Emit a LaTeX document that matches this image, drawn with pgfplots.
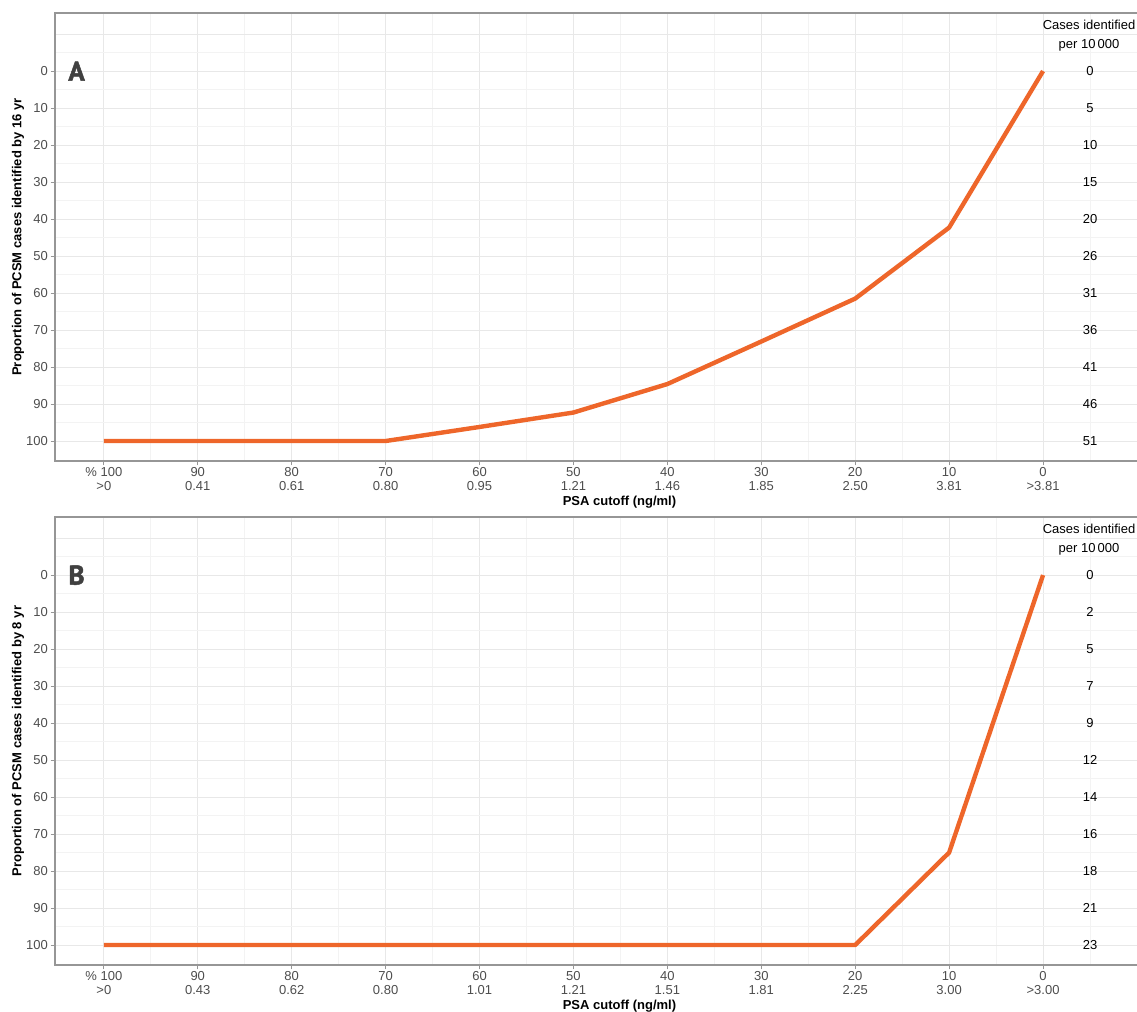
\documentclass[border=0pt]{standalone}
\usepackage{pgfplots}
\pgfplotsset{compat=1.18}
\usepackage{pgfplotstable}
\usepackage{fontspec}
\setmainfont{Liberation Sans}
\newfontfamily\panelfont{PT Sans}[BoldFeatures={FakeBold=1.8}]

\definecolor{lineorange}{RGB}{238,102,42}
\definecolor{gridmaj}{RGB}{232,232,232}
\definecolor{gridmin}{RGB}{243,243,243}
\definecolor{framegray}{RGB}{150,150,150}
\definecolor{ticktext}{RGB}{77,77,77}
\definecolor{lettergray}{RGB}{64,64,64}

% proportion of PCSM cases identified, by percentile cutoff
\pgfplotstableread{
cut prop
100 100
90 100
80 100
70 100
60 96.2
50 92.3
40 84.6
30 73.1
20 61.5
10 42.3
0 0
}\panelA

\pgfplotstableread{
cut prop
100 100
90 100
80 100
70 100
60 100
50 100
40 100
30 100
20 100
10 75
0 0
}\panelB

\newcommand{\smallfont}{\fontsize{6.5}{7.5}\selectfont}

\pgfplotsset{
  psapanel/.style={
    scale only axis, width=541pt, height=224pt,
    anchor=south west, clip=false,
    x dir=reverse, y dir=reverse,
    xmin=-10, xmax=105.2, ymin=-15.7, ymax=105.4,
    xtick={0,10,...,100},
    minor xtick={-5,5,...,95},
    ytick={0,10,...,100},
    minor ytick={-5,5,...,95},
    extra y ticks={-10}, extra y tick labels={},
    extra y tick style={major tick length=0pt, grid=major},
    grid=both,
    major grid style={gridmaj, line width=0.5pt},
    minor grid style={gridmin, line width=0.35pt},
    axis line style={draw=none},
    tick align=outside, xtick pos=bottom, ytick pos=left,
    major tick length=2.2pt, minor tick length=0pt,
    tick style={framegray, line width=0.5pt},
    /pgf/number format/assume math mode=true,
    yticklabel style={font=\smallfont, text=ticktext, xshift=2.2pt},
    xticklabel style={font=\fontsize{6.5}{6.75}\selectfont, text=ticktext,
                      align=center, yshift=2.3pt},
  }
}

\begin{document}
\begin{tikzpicture}
\path[use as bounding box] (0,0) rectangle (568.5pt,506pt);

% ---- panel A ----
\begin{axis}[psapanel, at={(27.5pt,275.5pt)},
  xticklabels={{0\\>3.81},{10\\3.81},{20\\2.50},{30\\1.85},{40\\1.46},{50\\1.21},
               {60\\0.95},{70\\0.80},{80\\0.61},{90\\0.41},{\% 100\\>0}}]
  \addplot[lineorange, line width=2.2pt, line join=round] table[x=cut, y=prop] {\panelA};
  \draw[framegray, line width=0.6pt] (axis cs:-10,-15.7) -- (axis cs:105.2,-15.7)
       -- (axis cs:105.2,105.4) -- (axis cs:-10,105.4);
  \node[font=\panelfont\bfseries\fontsize{13.5}{13.5}\selectfont, text=lettergray] at (axis cs:102.9,0) {A};
  \node[font=\fontsize{6.5}{9.5}\selectfont, align=center] at (axis cs:-4.9,-9.6) {Cases identified\\per 10\,000};
  \node[font=\smallfont] at (axis cs:-5,0) {0};
  \node[font=\smallfont] at (axis cs:-5,10) {5};
  \node[font=\smallfont] at (axis cs:-5,20) {10};
  \node[font=\smallfont] at (axis cs:-5,30) {15};
  \node[font=\smallfont] at (axis cs:-5,40) {20};
  \node[font=\smallfont] at (axis cs:-5,50) {26};
  \node[font=\smallfont] at (axis cs:-5,60) {31};
  \node[font=\smallfont] at (axis cs:-5,70) {36};
  \node[font=\smallfont] at (axis cs:-5,80) {41};
  \node[font=\smallfont] at (axis cs:-5,90) {46};
  \node[font=\smallfont] at (axis cs:-5,100) {51};
  \node[font=\bfseries\smallfont] at ([yshift=-20.6pt]axis cs:45.1,105.4) {PSA cutoff (ng/ml)};
  \node[rotate=90, font=\bfseries\smallfont] at ([xshift=-18.5pt]axis cs:105.2,44.85)
       {Proportion of PCSM cases identified by 16 yr};
\end{axis}

% ---- panel B ----
\begin{axis}[psapanel, at={(27.5pt,23.5pt)},
  xticklabels={{0\\>3.00},{10\\3.00},{20\\2.25},{30\\1.81},{40\\1.51},{50\\1.21},
               {60\\1.01},{70\\0.80},{80\\0.62},{90\\0.43},{\% 100\\>0}}]
  \addplot[lineorange, line width=2.2pt, line join=round] table[x=cut, y=prop] {\panelB};
  \draw[framegray, line width=0.6pt] (axis cs:-10,-15.7) -- (axis cs:105.2,-15.7)
       -- (axis cs:105.2,105.4) -- (axis cs:-10,105.4);
  \node[font=\panelfont\bfseries\fontsize{13.5}{13.5}\selectfont, text=lettergray] at (axis cs:102.9,0) {B};
  \node[font=\fontsize{6.5}{9.5}\selectfont, align=center] at (axis cs:-4.9,-9.6) {Cases identified\\per 10\,000};
  \node[font=\smallfont] at (axis cs:-5,0) {0};
  \node[font=\smallfont] at (axis cs:-5,10) {2};
  \node[font=\smallfont] at (axis cs:-5,20) {5};
  \node[font=\smallfont] at (axis cs:-5,30) {7};
  \node[font=\smallfont] at (axis cs:-5,40) {9};
  \node[font=\smallfont] at (axis cs:-5,50) {12};
  \node[font=\smallfont] at (axis cs:-5,60) {14};
  \node[font=\smallfont] at (axis cs:-5,70) {16};
  \node[font=\smallfont] at (axis cs:-5,80) {18};
  \node[font=\smallfont] at (axis cs:-5,90) {21};
  \node[font=\smallfont] at (axis cs:-5,100) {23};
  \node[font=\bfseries\smallfont] at ([yshift=-20.6pt]axis cs:45.1,105.4) {PSA cutoff (ng/ml)};
  \node[rotate=90, font=\bfseries\smallfont] at ([xshift=-18.5pt]axis cs:105.2,44.85)
       {Proportion of PCSM cases identified by 8 yr};
\end{axis}
\end{tikzpicture}
\end{document}
